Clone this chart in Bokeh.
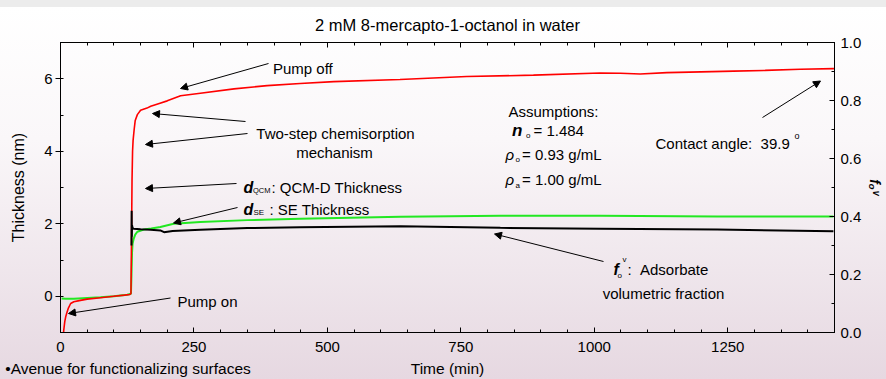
import math
from bokeh.plotting import figure
from bokeh.models import (Range1d, LinearAxis, SingleIntervalTicker, FixedTicker, Label,
                          Arrow, NormalHead, NumeralTickFormatter)
from bokeh.embed import file_html
from bokeh.resources import INLINE

# ---------------- data ----------------
# QCM-D thickness (nm), left axis
qcm_t = [4.5, 6, 8, 10, 12.5, 15, 19, 25, 35, 50, 75, 100, 120, 130, 132, 133, 134, 135,
         136, 138, 140, 144, 150, 162, 169, 185, 200, 225, 262, 325, 387, 449, 512, 636,
         761, 886, 1011, 1049, 1086, 1136, 1200, 1261, 1320, 1386, 1449]
qcm_d = [-1.3, -0.95, -0.7, -0.55, -0.43, -0.32, -0.2, -0.15, -0.12, -0.08, -0.04, 0.0,
         0.03, 0.05, 0.08, 1.5, 3.2, 4.0, 4.3, 4.6, 4.85, 5.01, 5.13, 5.19, 5.24, 5.32,
         5.39, 5.53, 5.6, 5.72, 5.81, 5.87, 5.92, 5.98, 6.06, 6.10, 6.16, 6.15, 6.13, 6.17,
         6.19, 6.21, 6.23, 6.26, 6.28]
# SE thickness (nm), left axis
se_t = [2, 10, 25, 50, 75, 100, 125, 132, 133, 134, 135, 137, 140, 144, 156, 170, 187,
        212, 262, 350, 449, 637, 824, 1011, 1230, 1448]
se_d = [-0.06, -0.07, -0.07, -0.05, -0.03, 0.0, 0.04, 0.07, 0.6, 1.2, 1.45, 1.58, 1.7,
        1.78, 1.84, 1.87, 1.91, 2.0, 2.05, 2.1, 2.14, 2.19, 2.22, 2.22, 2.2, 2.2]
# adsorbate volumetric fraction, right axis
fv_t = [133, 133.3, 133.6, 134, 135, 137, 150, 169, 187, 194, 210, 262, 350, 449, 637,
        824, 1011, 1230, 1448]
fv_v = [0.30, 0.42, 0.33, 0.37, 0.36, 0.358, 0.356, 0.354, 0.352, 0.346, 0.35, 0.354,
        0.36, 0.363, 0.366, 0.361, 0.358, 0.355, 0.349]

x_ticks = [0, 250, 500, 750, 1000, 1250]
y_ticks = [0, 2, 4, 6]
y2_ticks = [0.0, 0.2, 0.4, 0.6, 0.8, 1.0]

TITLE = "2 mM 8-mercapto-1-octanol in water"
X_LABEL = "Time (min)"
Y_LABEL = "Thickness (nm)"
Y2_LABEL = "f\u2092\u1d5b"
BULLET = "•Avenue for functionalizing surfaces"

FONT = "Liberation Sans"
NB = "\u00a0"

FL, FR, FT, FB = 60, 834, 42, 332   # frame edges on the page (px)
X0, X1, Y0, Y1 = 0, 1450, -1, 7

p = figure(width=886, height=379, output_backend="svg", toolbar_location=None,
           x_range=Range1d(X0, X1), y_range=Range1d(Y0, Y1),
           min_border_left=FL, min_border_right=886 - FR, min_border_top=FT,
           min_border_bottom=379 - FB)
p.extra_y_ranges = {"fv": Range1d(0, 1)}

p.background_fill_color = None
p.border_fill_color = None
p.styles = {"background": "linear-gradient(to bottom, #ececec 0px, #ececec 7px, "
                          "#ffffff 7px, #faf7f9 140px, #e6d8e1 379px)"}
p.outline_line_color = "black"
p.outline_line_width = 1
p.xgrid.visible = False
p.ygrid.visible = False

p.title.text = TITLE
p.title.align = "center"
p.title.text_font = FONT
p.title.text_font_size = "16.5px"
p.title.text_font_style = "normal"
p.title.text_color = "black"
p.title.standoff = 18


def style_axis(ax, maj_in, maj_out, standoff):
    ax.axis_line_color = "black"
    ax.major_tick_line_color = "black"
    ax.minor_tick_line_color = "black"
    ax.major_tick_in = maj_in
    ax.major_tick_out = maj_out
    ax.minor_tick_in = 3
    ax.minor_tick_out = 0
    ax.major_label_text_font = FONT
    ax.major_label_text_font_size = "15px"
    ax.major_label_text_color = "black"
    ax.major_label_standoff = standoff
    ax.axis_label_text_font = FONT
    ax.axis_label_text_font_size = "16px"
    ax.axis_label_text_font_style = "normal"
    ax.axis_label_text_color = "black"


xa = p.xaxis[0]
xa.ticker = SingleIntervalTicker(interval=x_ticks[1] - x_ticks[0], num_minor_ticks=5)
style_axis(xa, 5, 0, 9)

ya = p.yaxis[0]
ya.ticker = SingleIntervalTicker(interval=y_ticks[1] - y_ticks[0], num_minor_ticks=2)
ya.axis_label = Y_LABEL
ya.axis_label_standoff = 14
style_axis(ya, 0, 5, 3)

ra = LinearAxis(y_range_name="fv",
                ticker=SingleIntervalTicker(interval=y2_ticks[1] - y2_ticks[0], num_minor_ticks=2),
                formatter=NumeralTickFormatter(format="0.0"))
style_axis(ra, 5, 0, 6)
ra.axis_label = Y2_LABEL
ra.axis_label_standoff = 3
ra.axis_label_text_font_size = "14px"
ra.axis_label_text_font_style = "bold italic"
p.add_layout(ra, "right")

ta = LinearAxis(ticker=SingleIntervalTicker(interval=x_ticks[1] - x_ticks[0], num_minor_ticks=5))
style_axis(ta, 5, 0, 0)
ta.major_label_text_font_size = "0px"
ta.major_label_text_alpha = 0
p.add_layout(ta, "above")

# one text row under the x tick labels: the bullet line (left) and the x-axis title (centre)
t_bullet = (127.5 - FL) * (X1 - X0) / (FR - FL)
t_center = (X0 + X1) / 2
ba = LinearAxis(ticker=FixedTicker(ticks=[t_bullet, t_center], minor_ticks=[]),
                major_label_overrides={t_bullet: BULLET, t_center: X_LABEL})
ba.axis_line_color = None
ba.major_tick_line_color = None
ba.minor_tick_line_color = None
ba.major_label_text_font = FONT
ba.major_label_text_font_size = "15.5px"
ba.major_label_text_color = "black"
ba.major_label_standoff = -1
p.add_layout(ba, "below")

# ---------------- series ----------------
p.line(se_t, se_d, color="#22e822", line_width=2)
p.line(qcm_t, qcm_d, color="#ff0000", line_width=1.6)
p.line(fv_t, fv_v, color="black", line_width=2, y_range_name="fv")


# ---------------- annotations (page pixel -> data) ----------------
def T(px):
    return X0 + (px - FL) * (X1 - X0) / (FR - FL)


def V(py):
    return Y1 - (py - FT) * (Y1 - Y0) / (FB - FT)


def lab(px, py, text, size=15, align="left", style="normal"):
    p.add_layout(Label(x=T(px), y=V(py), text=text, text_font=FONT,
                       text_font_size=f"{size}px", text_align=align,
                       text_baseline="alphabetic", text_font_style=style,
                       text_color="black"))


def arr(x0, y0, x1, y1):
    p.add_layout(Arrow(end=NormalHead(size=7, fill_color="black", line_color="black",
                                      line_width=1),
                       x_start=T(x0), y_start=V(y0), x_end=T(x1), y_end=V(y1),
                       line_color="black", line_width=1))


lab(272.5, 67.7, "Pump off")
arr(268, 63, 180, 88)

lab(335, 132.7, "Two-step chemisorption", align="center")
lab(334, 151.7, "mechanism", align="center")
arr(245, 121, 152, 113)
arr(247, 133, 145, 144)

lab(243, 187.3, "d", size=16, style="bold italic")
lab(252.5, 190, "QCM", size=7.5)
lab(271, 187.3, ": QCM-D Thickness")
arr(236, 183, 145, 188)

lab(243, 209.3, "d", size=16, style="bold italic")
lab(253, 212, "SE", size=8)
lab(269, 209.3, ": SE Thickness")
arr(237, 207, 173, 222.5)

lab(177, 300.7, "Pump on")
arr(170, 297.5, 68, 313)

lab(508, 111, "Assumptions:")
lab(511.5, 130, "n", size=17, style="bold italic")
lab(525.5, 135, "o", size=8)
lab(533, 129.7, "= 1.484")
lab(505, 154, "ρ", style="italic")
lab(515, 159, "o", size=8)
lab(521.5, 154, "= 0.93 g/mL")
lab(505, 179.3, "ρ", style="italic")
lab(515, 184.5, "a", size=8)
lab(521.5, 179.3, "= 1.00 g/mL")

lab(655, 142.7, "Contact angle:" + NB + NB + "39.9")
lab(794, 135, "o", size=9)
arr(762, 117, 820, 80.5)

lab(613, 269.3, "f", size=16, style="bold italic")
lab(622, 259, "v", size=8)
lab(617, 275, "o", size=8)
lab(627, 269.3, ":" + NB + NB + "Adsorbate")
lab(663, 293, "volumetric fraction", align="center")
arr(603, 261, 494, 233.5)

open("out.html", "w").write(file_html(p, INLINE))
